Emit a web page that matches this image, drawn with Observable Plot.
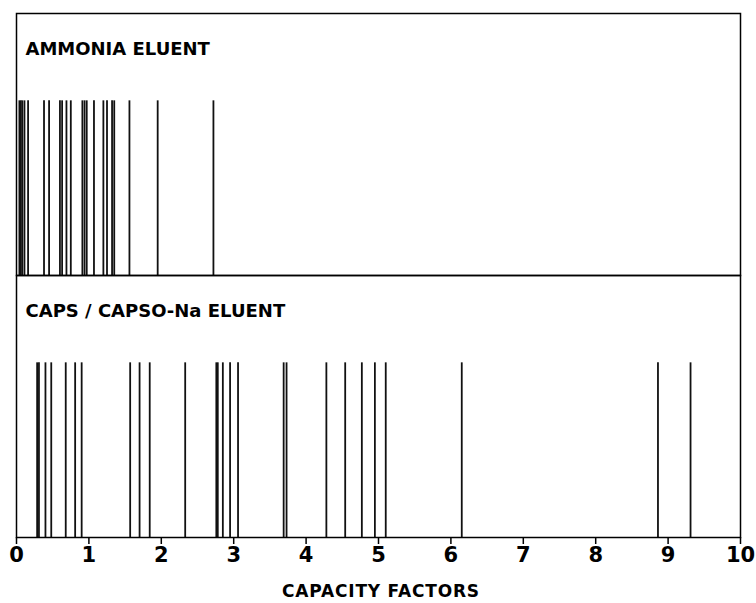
<!DOCTYPE html>
<html>
<head>
<meta charset="utf-8">
<script src="https://cdn.jsdelivr.net/npm/d3@7"></script>
<script src="https://cdn.jsdelivr.net/npm/@observablehq/plot@0.6"></script>
<style>
  html, body { margin: 0; padding: 0; background: #fff; }
  #title { width: 756px; text-align: center; font: bold 17px "DejaVu Sans"; letter-spacing: 0.8px; line-height: 18px; height: 18px; margin-top: 7px; color: #000; padding-left: 6px; box-sizing: border-box; }
</style>
</head>
<body>
<div id="chart"></div>
<div id="title">CAPACITY FACTORS</div>
<script>
const panels = ["AMMONIA ELUENT", "CAPS / CAPSO-Na ELUENT"];
const ammoniaK = [0.04, 0.06, 0.08, 0.11, 0.16, 0.38, 0.45, 0.60, 0.63, 0.69, 0.75, 0.91, 0.94, 0.97, 1.07, 1.20, 1.25, 1.32, 1.35, 1.56, 1.95, 2.72];
const capsK = [0.285, 0.31, 0.40, 0.48, 0.68, 0.81, 0.90, 1.57, 1.70, 1.84, 2.33, 2.76, 2.78, 2.85, 2.95, 3.06, 3.69, 3.73, 4.28, 4.54, 4.77, 4.95, 5.10, 6.15, 8.86, 9.31];
const xTicks = [0, 1, 2, 3, 4, 5, 6, 7, 8, 9, 10];
const peakHeight = 1;

const rows = ammoniaK.map(k => ({panel: panels[0], k}))
  .concat(capsK.map(k => ({panel: panels[1], k})));

const chart = Plot.plot({
  width: 756,
  height: 575,
  marginLeft: 16,
  marginRight: 16,
  marginTop: 12,
  marginBottom: 38,
  style: {fontFamily: "DejaVu Sans", color: "#000", background: "#fff", overflow: "visible"},
  x: {domain: [0, 10]},
  y: {domain: [0, 1.5], axis: null},
  fy: {domain: panels, axis: null, padding: 0},
  marks: [
    Plot.ruleX(rows, {x: "k", y1: 0, y2: peakHeight, fy: "panel", stroke: "#111", strokeWidth: 1.8}),
    Plot.frame({stroke: "#000", strokeWidth: 1.5}),
    Plot.text(panels, {fy: d => d, text: d => d, frameAnchor: "top-left", dx: 9, dy: 29, fontSize: 18, fontWeight: "bold", fill: "#000"}),
    Plot.axisX({ticks: xTicks, tickSize: 7, tickPadding: 3, fontSize: 21, fontWeight: "bold", tickFormat: "d", label: null, stroke: "#000", strokeWidth: 1.5})
  ]
});
document.getElementById("chart").appendChild(chart);
</script>
</body>
</html>
